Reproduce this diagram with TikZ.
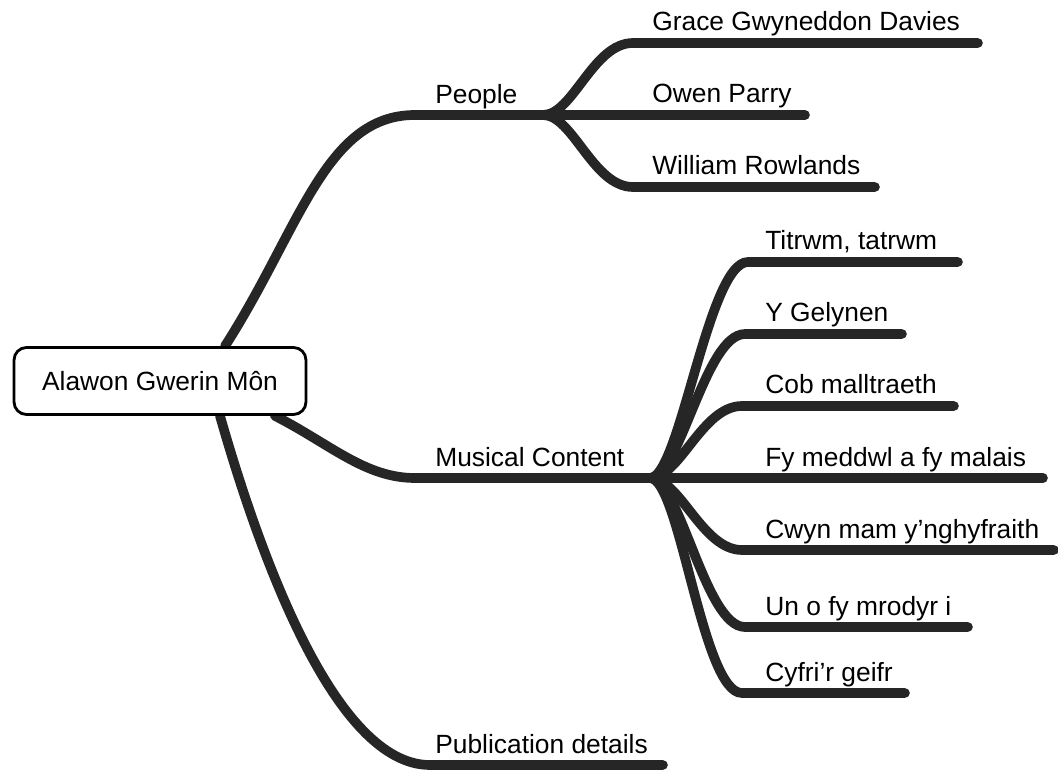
\documentclass[tikz,border=0pt]{standalone}
\usepackage{fontspec}
\setmainfont{Liberation Sans}
\usetikzlibrary{backgrounds}
\tikzset{
  branch/.style={draw=black!85, line width=5.5pt, line cap=round},
  topic/.style={anchor=base west, inner sep=0pt, font=\fontsize{15}{18}\selectfont},
  rootbox/.style={draw, line width=1.6pt, rounded corners=0.25cm, fill=white,
    minimum width=5.84cm, minimum height=1.34cm, font=\fontsize{15}{18}\selectfont}
}
\begin{document}
\begin{tikzpicture}[x=0.02cm, y=-0.02cm]
  \useasboundingbox (0,0) rectangle (1058,773);
  \node[rootbox] (root) at (160,381) {Alawon Gwerin Môn};
  % first level
  \node[topic] (people) at (435,104) {People};
  \node[topic] (music) at (435,466) {Musical Content};
  \node[topic] (pub) at (435,753) {Publication details};
  \coordinate (peopleS) at (415,115);
  \coordinate (peopleJ) at (543,115);
  \coordinate (musicS) at (415,478);
  \coordinate (musicJ) at (650,478);
  \coordinate (pubS) at (430,765);
  \coordinate (pubE) at (663,765);
  % people
  \node[topic] (grace) at (652,31) {Grace Gwyneddon Davies};
  \node[topic] (owen) at (652,103) {Owen Parry};
  \node[topic] (william) at (652,175) {William Rowlands};
  \coordinate (graceS) at (633,43);   \coordinate (graceE) at (978,43);
  \coordinate (owenE) at (805,115);
  \coordinate (williamS) at (633,187); \coordinate (williamE) at (875,187);
  % songs
  \node[topic] (titrwm) at (765,250) {Titrwm, tatrwm};
  \node[topic] (gelynen) at (765,322) {Y Gelynen};
  \node[topic] (cob) at (765,394) {Cob malltraeth};
  \node[topic] (meddwl) at (765,466) {Fy meddwl a fy malais};
  \node[topic] (cwyn) at (765,538) {Cwyn mam y’nghyfraith};
  \node[topic] (brodyr) at (765,615) {Un o fy mrodyr i};
  \node[topic] (geifr) at (765,681) {Cyfri’r geifr};
  \coordinate (titrwmS) at (748,262);  \coordinate (titrwmE) at (958,262);
  \coordinate (gelynenS) at (745,334); \coordinate (gelynenE) at (902,334);
  \coordinate (cobS) at (742,406);     \coordinate (cobE) at (954,406);
  \coordinate (meddwlE) at (1043,478);
  \coordinate (cwynS) at (742,550);    \coordinate (cwynE) at (1054,550);
  \coordinate (brodyrS) at (745,627);  \coordinate (brodyrE) at (968,627);
  \coordinate (geifrS) at (742,693);   \coordinate (geifrE) at (905,693);
  \begin{scope}[on background layer]
    \draw[branch] ([xshift=1.3cm]root.north) .. controls +(75,-117) and +(-90,0) .. (peopleS) -- (peopleJ);
    \draw[branch] ([xshift=2.3cm]root.south) .. controls +(55,28) and +(-50,0) .. (musicS) -- (musicJ);
    \draw[branch] ([xshift=1.2cm]root.south) .. controls +(40,140) and +(-95,0) .. (pubS) -- (pubE);
    % people
    \draw[branch] (peopleJ) .. controls +(30,0) and +(-40,0) .. (graceS) -- (graceE);
    \draw[branch] (peopleJ) -- (owenE);
    \draw[branch] (peopleJ) .. controls +(30,0) and +(-40,0) .. (williamS) -- (williamE);
    % songs
    \draw[branch] (musicJ) .. controls +(30,0) and +(-40,0) .. (titrwmS) -- (titrwmE);
    \draw[branch] (musicJ) .. controls +(30,0) and +(-40,0) .. (gelynenS) -- (gelynenE);
    \draw[branch] (musicJ) .. controls +(30,0) and +(-40,0) .. (cobS) -- (cobE);
    \draw[branch] (musicJ) -- (meddwlE);
    \draw[branch] (musicJ) .. controls +(30,0) and +(-40,0) .. (cwynS) -- (cwynE);
    \draw[branch] (musicJ) .. controls +(30,0) and +(-40,0) .. (brodyrS) -- (brodyrE);
    \draw[branch] (musicJ) .. controls +(30,0) and +(-40,0) .. (geifrS) -- (geifrE);
  \end{scope}
\end{tikzpicture}
\end{document}
